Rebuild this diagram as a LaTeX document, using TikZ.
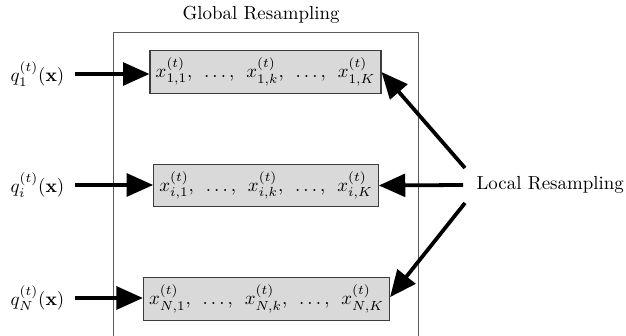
\documentclass[tikz,border=0pt]{standalone}
\usepackage{amsmath, amssymb}
\usetikzlibrary{arrows.meta}
\definecolor{boxGray}{RGB}{217, 217, 217}
\definecolor{edgeGray}{RGB}{60, 60, 60}
\definecolor{frameGray}{RGB}{90, 90, 90}
\newcommand{\sgap}{\hspace{4.6pt}}

\begin{document}
\begin{tikzpicture}[x=0.0186cm, y=-0.0186cm,
    sample/.style={draw=edgeGray, fill=boxGray, line width=0.6pt, minimum height=22.5pt, inner xsep=3pt, inner ysep=3pt},
    bigarrow/.style={line width=2pt, -{Triangle[length=14pt, width=12pt]}}]
      \useasboundingbox (0,0) rectangle (626,336);

      % Global resampling frame (open at the bottom)
      \draw[frameGray, line width=0.5pt] (113,350) -- (113,32) -- (418,32) -- (418,350);
      \node (glob) at (261,15) {Global Resampling};

      % Sample sets
      \node[sample] (b1) at (265.5,72) {$x_{1,1}^{(t)},\sgap\ldots,\sgap x_{1,k}^{(t)},\sgap\ldots,\sgap x_{1,K}^{(t)}$};
      \node[sample] (b2) at (266,185.5) {$x_{i,1}^{(t)},\sgap\ldots,\sgap x_{i,k}^{(t)},\sgap\ldots,\sgap x_{i,K}^{(t)}$};
      \node[sample] (b3) at (266.5,299) {$x_{N,1}^{(t)},\sgap\ldots,\sgap x_{N,k}^{(t)},\sgap\ldots,\sgap x_{N,K}^{(t)}$};

      % Proposals
      \node[anchor=east] (q1) at (71,74) {$q_1^{(t)}(\mathbf{x})$};
      \node[anchor=east] (qi) at (71,185) {$q_i^{(t)}(\mathbf{x})$};
      \node[anchor=east] (qN) at (71,298) {$q_N^{(t)}(\mathbf{x})$};

      \draw[bigarrow] (q1.east -| 75,0) -- (q1.east -| b1.west);
      \draw[bigarrow] (qi.east -| 75,0) -- (qi.east -| b2.west);
      \draw[bigarrow] (qN.east -| 75,0) -- (qN.east -| b3.west);

      % Local resampling
      \node[anchor=west] (loc) at (470,185) {Local Resampling};
      \coordinate (l1) at (465,168);
      \coordinate (l2) at (463,185);
      \coordinate (l3) at (465,203);

      \draw[bigarrow] (l1) -- (b1.east);
      \draw[bigarrow] (l2) -- (b2.east);
      \draw[bigarrow] (l3) -- ([yshift=1pt]b3.east);
    \end{tikzpicture}
\end{document}
